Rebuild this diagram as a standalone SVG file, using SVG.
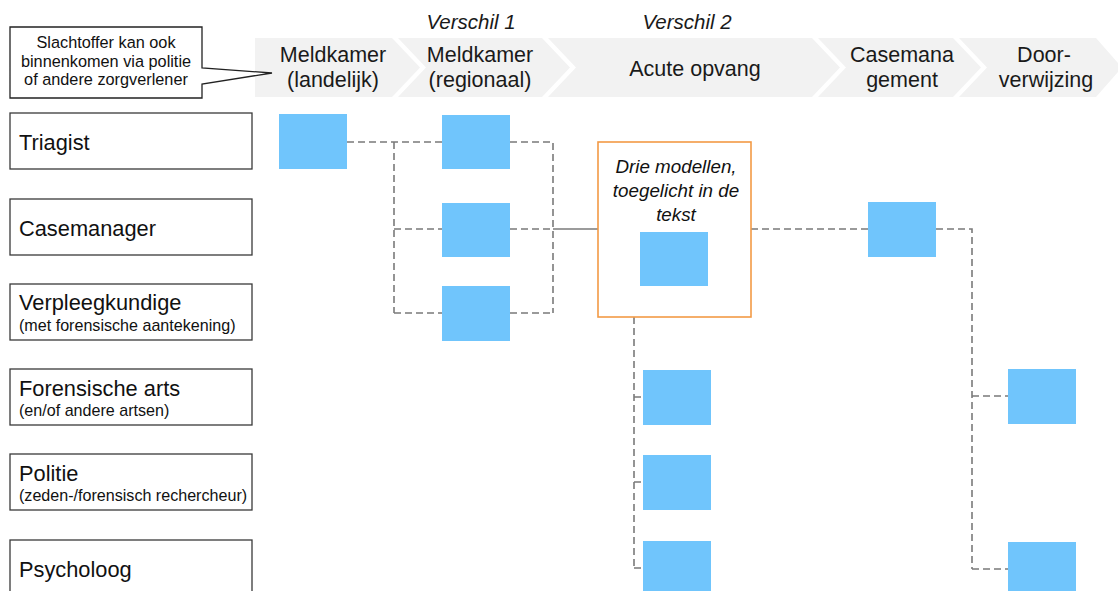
<svg xmlns="http://www.w3.org/2000/svg" width="1118" height="591" viewBox="0 0 1118 591">
<style>
.chev{fill:#F2F2F2;stroke:none}
.hdr{font-family:"Liberation Sans",Arial,sans-serif;font-size:21.5px;fill:#1a1a1a;text-anchor:middle}
.ver{font-family:"Liberation Sans",Arial,sans-serif;font-size:20.5px;font-style:italic;fill:#1a1a1a;text-anchor:middle}
.role{fill:#fff;stroke:#3a3a3a;stroke-width:1.3}
.rl{font-family:"Liberation Sans",Arial,sans-serif;font-size:21.8px;fill:#111}
.sub{font-family:"Liberation Sans",Arial,sans-serif;font-size:16.1px;fill:#111}
.call{font-family:"Liberation Sans",Arial,sans-serif;font-size:16.3px;fill:#111;text-anchor:middle}
.blue{fill:#70C5FC}
.dash{fill:none;stroke:#7A7A7A;stroke-width:1.6;stroke-dasharray:7 4}
.solid{fill:none;stroke:#7A7A7A;stroke-width:1.6}
.drie{font-family:"Liberation Sans",Arial,sans-serif;font-size:18.8px;font-style:italic;fill:#111;text-anchor:middle}
</style>

<g id="banner">
<polygon class="chev" points="255,38 392,38 420,67.5 392,97 255,97"/>
<polygon class="chev" points="398,38 542,38 570,67.5 542,97 398,97 426,67.5"/>
<polygon class="chev" points="548,38 812,38 840,67.5 812,97 548,97 576,67.5"/>
<polygon class="chev" points="818,38 953,38 981,67.5 953,97 818,97 846,67.5"/>
<polygon class="chev" points="959,38 1096,38 1122,67.5 1096,97 959,97 987,67.5"/>
<text class="hdr" x="333" y="62">Meldkamer</text>
<text class="hdr" x="333" y="87">(landelijk)</text>
<text class="hdr" x="480" y="62">Meldkamer</text>
<text class="hdr" x="480" y="87">(regionaal)</text>
<text class="hdr" x="695" y="76">Acute opvang</text>
<text class="hdr" x="902" y="62">Casemana</text>
<text class="hdr" x="902" y="87">gement</text>
<text class="hdr" x="1044" y="62">Door-</text>
<text class="hdr" x="1046" y="87">verwijzing</text>
<text class="ver" x="471" y="29">Verschil 1</text>
<text class="ver" x="687" y="29">Verschil 2</text>
</g>

<g id="callout">
<path d="M10,27 H202 V68 L272,73 L202,84 V98 H10 Z" fill="#fff" stroke="#222" stroke-width="1.3"/>
<text class="call" x="106" y="48">Slachtoffer kan ook</text>
<text class="call" x="106" y="67">binnenkomen via politie</text>
<text class="call" x="106" y="85">of andere zorgverlener</text>
</g>

<g id="role-triagist">
<rect class="role" x="10" y="113" width="242" height="56"/>
<text class="rl" x="19" y="150">Triagist</text>
</g>
<g id="role-casemanager">
<rect class="role" x="10" y="199" width="242" height="56"/>
<text class="rl" x="19" y="236">Casemanager</text>
</g>
<g id="role-verpleegkundige">
<rect class="role" x="10" y="284" width="242" height="56"/>
<text class="rl" x="19" y="310">Verpleegkundige</text>
<text class="sub" x="19" y="331">(met forensische aantekening)</text>
</g>
<g id="role-forensisch">
<rect class="role" x="10" y="369" width="242" height="56"/>
<text class="rl" x="19" y="396">Forensische arts</text>
<text class="sub" x="19" y="416">(en/of andere artsen)</text>
</g>
<g id="role-politie">
<rect class="role" x="10" y="454" width="242" height="56"/>
<text class="rl" x="19" y="481">Politie</text>
<text class="sub" x="19" y="501">(zeden-/forensisch rechercheur)</text>
</g>
<g id="role-psycholoog">
<rect class="role" x="10" y="540" width="242" height="60"/>
<text class="rl" x="19" y="577">Psycholoog</text>
</g>

<g id="connectors">
<path class="dash" d="M347,142 H442 M394,142 V313 M394,229 H442 M394,313 H442"/>
<path class="dash" d="M510,142 H553 V313 M510,229 H553 M510,313 H553"/>
<path class="solid" d="M553,229 H598"/>
<path class="dash" d="M751,229 H868 M936,229 H972 V569 M972,396 H1008 M972,569 H1008"/>
<path class="dash" d="M634,317 V568 M634,397 H643 M634,482 H643 M634,568 H643"/>
</g>

<g id="n-triagist-landelijk"><rect class="blue" x="279" y="114" width="68" height="55"/></g>
<g id="n-triagist-regionaal"><rect class="blue" x="442" y="115" width="68" height="54"/></g>
<g id="n-casemanager-regionaal"><rect class="blue" x="442" y="203" width="68" height="54"/></g>
<g id="n-verpleeg-regionaal"><rect class="blue" x="442" y="286" width="68" height="55"/></g>
<g id="n-acute">
<rect x="598" y="142" width="153" height="175" fill="#fff" stroke="#F39A45" stroke-width="1.6"/>
<text class="drie" x="676" y="173">Drie modellen,</text>
<text class="drie" x="676" y="197">toegelicht in de</text>
<text class="drie" x="676" y="221">tekst</text>
<rect class="blue" x="640" y="232" width="68" height="54"/>
</g>
<g id="n-casemanagement"><rect class="blue" x="868" y="202" width="68" height="55"/></g>
<g id="n-forensisch-acute"><rect class="blue" x="643" y="370" width="68" height="55"/></g>
<g id="n-politie-acute"><rect class="blue" x="643" y="455" width="68" height="55"/></g>
<g id="n-psycholoog-acute"><rect class="blue" x="643" y="541" width="68" height="50"/></g>
<g id="n-forensisch-door"><rect class="blue" x="1008" y="369" width="68" height="55"/></g>
<g id="n-psycholoog-door"><rect class="blue" x="1008" y="542" width="68" height="49"/></g>
</svg>
